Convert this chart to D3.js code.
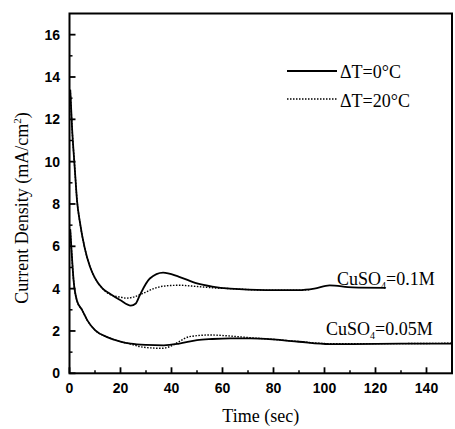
<!DOCTYPE html>
<html lang="en">
<head>
    <meta charset="UTF-8">
    <title>Current Density vs Time</title>
    <style>
        body { margin: 0; background: #fff; }
        svg text { fill: #000; }
        .tick-label { font-family: "Liberation Sans", Arial, sans-serif; font-weight: bold; font-size: 14px; }
        .serif { font-family: "Liberation Serif", "Times New Roman", serif; }
    </style>
    <script src="https://d3js.org/d3.v7.min.js"></script>
</head>
<body>
<div id="chart"></div>
<script>
    // 0.1M, dT = 0 C (solid)
    const hiSolidT = [0.3, 1, 2, 3, 4, 6, 8, 10, 13, 16, 20, 24, 26, 27.6, 31.5, 36.7, 43, 50, 56, 63, 77, 90, 96, 102, 111, 124];
    const hiSolidV = [13.4, 11.6, 9.8, 8.1, 7.2, 5.9, 5.05, 4.5, 4.0, 3.75, 3.45, 3.2, 3.3, 3.7, 4.48, 4.76, 4.56, 4.25, 4.1, 4.0, 3.93, 3.93, 4.0, 4.15, 4.06, 4.04];
    // 0.1M, dT = 20 C (dotted)
    const hiDotT = [0.3, 1, 2, 3, 4, 6, 8, 10, 13, 16, 20, 22.4, 25, 28.9, 33, 37, 43, 50, 56, 63, 77, 90, 94];
    const hiDotV = [13.4, 11.6, 9.8, 8.1, 7.2, 5.9, 5.05, 4.5, 4.0, 3.72, 3.6, 3.55, 3.6, 3.78, 4.0, 4.12, 4.16, 4.1, 4.04, 4.0, 3.93, 3.93, 3.95];
    // 0.05M, dT = 0 C (solid)
    const loSolidT = [0.3, 0.8, 1.6, 3, 4.9, 7, 10, 15, 20, 24, 30, 37, 43, 50, 56, 63, 71, 80, 90, 102, 111, 130, 150];
    const loSolidV = [6.8, 5.8, 4.4, 3.4, 3.0, 2.5, 2.04, 1.7, 1.5, 1.4, 1.34, 1.32, 1.4, 1.57, 1.62, 1.65, 1.65, 1.6, 1.49, 1.38, 1.38, 1.4, 1.4];
    // 0.05M, dT = 20 C (dotted)
    const loDotT = [0.3, 0.8, 1.6, 3, 4.9, 7, 10, 15, 20, 24, 27.6, 32, 36, 39.3, 43, 47, 55, 63, 71, 80, 90, 102, 120, 150];
    const loDotV = [6.8, 5.8, 4.4, 3.4, 3.0, 2.5, 2.04, 1.7, 1.5, 1.38, 1.26, 1.2, 1.18, 1.26, 1.5, 1.73, 1.81, 1.76, 1.68, 1.6, 1.5, 1.4, 1.4, 1.42];

    const xMajor = [0, 20, 40, 60, 80, 100, 120, 140];
    const xMinor = [10, 30, 50, 70, 90, 110, 130];
    const yMajor = [0, 2, 4, 6, 8, 10, 12, 14, 16];
    const yMinor = [1, 3, 5, 7, 9, 11, 13, 15];

    const legendLabels = ["\u0394T=0\u00B0C", "\u0394T=20\u00B0C"];

    const width = 455, height = 429;
    const plotL = 69.5, plotR = 452, plotT = 13.5, plotB = 373.3;

    const x = d3.scaleLinear().domain([0, 150]).range([plotL, plotR]);
    const y = d3.scaleLinear().domain([0, 17]).range([plotB, plotT]);

    const svg = d3.select("#chart").append("svg")
        .attr("width", width)
        .attr("height", height);

    const line = d3.line()
        .x(d => x(d[0]))
        .y(d => y(d[1]))
        .curve(d3.curveMonotoneX);

    const zip = (ts, vs) => ts.map((t, i) => [t, vs[i]]);

    // dotted first, solid on top
    [[hiDotT, hiDotV], [loDotT, loDotV]].forEach(s => {
        svg.append("path")
            .attr("d", line(zip(s[0], s[1])))
            .attr("fill", "none")
            .attr("stroke", "#000")
            .attr("stroke-width", 1.4)
            .attr("stroke-dasharray", "1.5,1.5");
    });
    [[hiSolidT, hiSolidV], [loSolidT, loSolidV]].forEach(s => {
        svg.append("path")
            .attr("d", line(zip(s[0], s[1])))
            .attr("fill", "none")
            .attr("stroke", "#000")
            .attr("stroke-width", 1.8);
    });

    // frame
    svg.append("rect")
        .attr("x", plotL).attr("y", plotT)
        .attr("width", plotR - plotL).attr("height", plotB - plotT)
        .attr("fill", "none")
        .attr("stroke", "#000")
        .attr("stroke-width", 2);

    // ticks (inward)
    svg.selectAll(".xmaj").data(xMajor).enter().append("line")
        .attr("x1", d => x(d)).attr("x2", d => x(d))
        .attr("y1", plotB).attr("y2", plotB - 6)
        .attr("stroke", "#000").attr("stroke-width", 1.8);
    svg.selectAll(".xmin").data(xMinor).enter().append("line")
        .attr("x1", d => x(d)).attr("x2", d => x(d))
        .attr("y1", plotB).attr("y2", plotB - 3)
        .attr("stroke", "#000").attr("stroke-width", 1.5);
    svg.selectAll(".ymaj").data(yMajor).enter().append("line")
        .attr("x1", plotL).attr("x2", plotL + 6)
        .attr("y1", d => y(d)).attr("y2", d => y(d))
        .attr("stroke", "#000").attr("stroke-width", 1.8);
    svg.selectAll(".ymin").data(yMinor).enter().append("line")
        .attr("x1", plotL).attr("x2", plotL + 3)
        .attr("y1", d => y(d)).attr("y2", d => y(d))
        .attr("stroke", "#000").attr("stroke-width", 1.5);

    // tick labels
    svg.selectAll(".xlab").data(xMajor).enter().append("text")
        .attr("class", "tick-label")
        .attr("x", d => x(d))
        .attr("y", 393)
        .attr("text-anchor", "middle")
        .text(d => d);
    svg.selectAll(".ylab").data(yMajor).enter().append("text")
        .attr("class", "tick-label")
        .attr("x", 60)
        .attr("y", d => y(d) + 5)
        .attr("text-anchor", "end")
        .text(d => d);

    // axis titles
    svg.append("text")
        .attr("class", "serif")
        .attr("x", (plotL + plotR) / 2)
        .attr("y", 422)
        .attr("text-anchor", "middle")
        .attr("font-size", 18)
        .text("Time (sec)");

    const yt = svg.append("text")
        .attr("class", "serif")
        .attr("transform", "translate(28,208) rotate(-90)")
        .attr("text-anchor", "middle")
        .attr("font-size", 18);
    yt.append("tspan").text("Current Density (mA/cm");
    yt.append("tspan").attr("font-size", 11).attr("dy", -7).text("2");
    yt.append("tspan").attr("dy", 7).text(")");

    // legend
    svg.append("line")
        .attr("x1", 287).attr("x2", 337).attr("y1", 71).attr("y2", 71)
        .attr("stroke", "#000").attr("stroke-width", 1.8);
    svg.append("line")
        .attr("x1", 287).attr("x2", 337).attr("y1", 99).attr("y2", 99)
        .attr("stroke", "#000").attr("stroke-width", 1.4)
        .attr("stroke-dasharray", "1.5,1.5");
    svg.selectAll(".leg").data(legendLabels).enter().append("text")
        .attr("class", "serif")
        .attr("x", 340)
        .attr("y", (d, i) => 78 + i * 29)
        .attr("font-size", 18)
        .text(d => d);

    // concentration labels
    function cuso4(xp, yp, conc) {
        const t = svg.append("text")
            .attr("class", "serif")
            .attr("x", xp).attr("y", yp)
            .attr("font-size", 18);
        t.append("tspan").text("CuSO");
        t.append("tspan").attr("font-size", 10).attr("dy", 4).text("4");
        t.append("tspan").attr("dy", -4).text("=" + conc);
    }
    cuso4(337, 285, "0.1M");
    cuso4(326, 335, "0.05M");
</script>
</body>
</html>
